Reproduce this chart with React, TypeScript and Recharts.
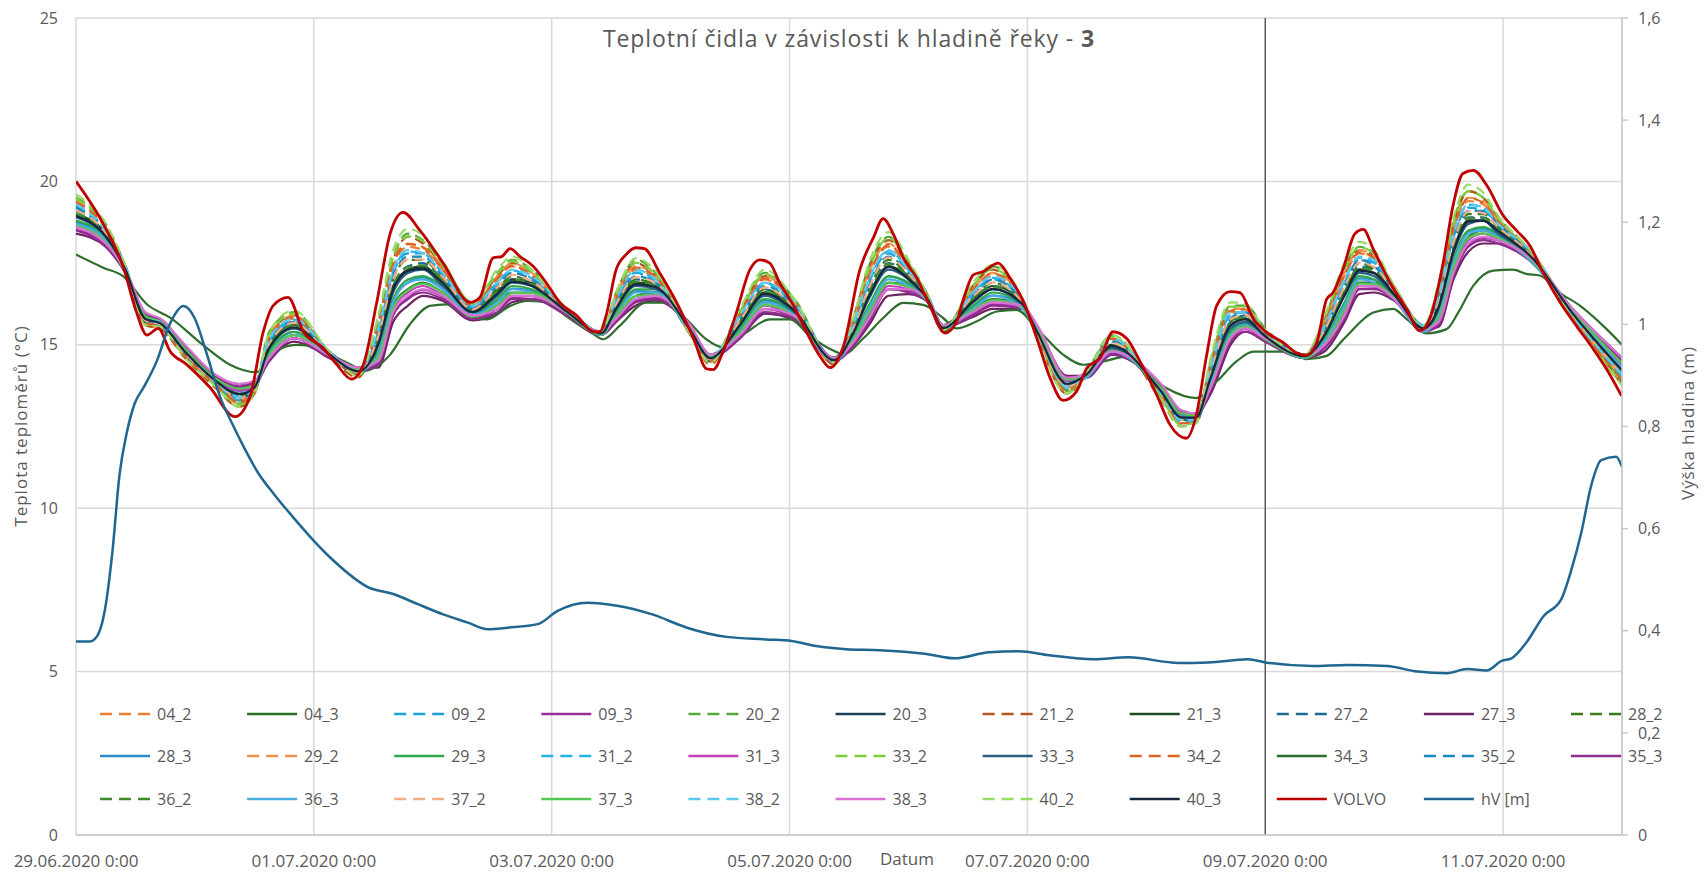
import React from "react";
import { ComposedChart, Line, XAxis, YAxis, CartesianGrid, ReferenceLine } from "recharts";

// ---------- axes ----------
const xTickHours = [0, 48, 96, 144, 192, 240, 288];
const xTickLabels = ["29.06.2020 0:00", "01.07.2020 0:00", "03.07.2020 0:00", "05.07.2020 0:00", "07.07.2020 0:00", "09.07.2020 0:00", "11.07.2020 0:00"];
const leftTicks = [0, 5, 10, 15, 20, 25];
const rightTicks = [0, 0.2, 0.4, 0.6, 0.8, 1, 1.2, 1.4, 1.6];

// hours since 29.06.2020 0:00 for the sensor readings
const bundleHours = [0, 6, 10, 14, 17, 22, 28, 33, 36, 39, 44, 51, 57, 61, 64, 67, 70, 74, 80, 85, 88, 92, 99, 106, 109, 113, 117, 124, 128, 134, 139, 145, 153, 157, 160, 164, 168, 172, 175, 181, 185, 191, 194, 200, 204, 209, 219, 223, 226, 229, 233, 236, 240, 248, 252, 256, 259, 262, 266, 272, 275, 278, 281, 284, 287, 294, 302, 312];

// ---------- sensor series (°C) ----------
const s40_2 = [19.6, 18.7, 17.4, 15.6, 15.55, 14.6, 13.75, 13.1, 13.5, 15.4, 16.05, 14.8, 14.05, 15.9, 17.9, 18.55, 18.35, 17.55, 16.3, 17.3, 17.7, 17.3, 16.1, 15.4, 16.6, 17.65, 17.25, 15.3, 14.45, 16.1, 17.3, 16.4, 14.45, 15.9, 17.5, 18.45, 17.6, 16.45, 15.45, 16.9, 17.45, 16.4, 15.2, 13.5, 14.15, 15.3, 13.35, 12.5, 12.6, 14.6, 16.3, 16.25, 15.45, 14.7, 15.9, 17.5, 18.15, 17.9, 16.8, 15.55, 16.9, 18.9, 19.9, 19.65, 18.95, 17.8, 15.8, 13.75];
const s33_2 = [19.48, 18.63, 17.38, 15.64, 15.57, 14.64, 13.78, 13.17, 13.54, 15.31, 15.96, 14.79, 14.08, 15.74, 17.68, 18.32, 18.17, 17.43, 16.25, 17.17, 17.56, 17.21, 16.09, 15.39, 16.51, 17.51, 17.16, 15.33, 14.48, 16.01, 17.17, 16.34, 14.47, 15.81, 17.31, 18.26, 17.5, 16.44, 15.46, 16.8, 17.32, 16.37, 15.24, 13.56, 14.14, 15.24, 13.39, 12.55, 12.63, 14.49, 16.17, 16.17, 15.42, 14.69, 15.79, 17.32, 17.99, 17.77, 16.76, 15.54, 16.77, 18.71, 19.7, 19.5, 18.87, 17.77, 15.83, 13.84];
const s20_2 = [19.5, 18.7, 17.4, 15.7, 15.6, 14.7, 13.8, 13.2, 13.6, 15.4, 16.0, 14.8, 14.1, 15.8, 17.7, 18.4, 18.2, 17.5, 16.3, 17.2, 17.6, 17.3, 16.1, 15.4, 16.6, 17.6, 17.2, 15.4, 14.5, 16.1, 17.2, 16.4, 14.5, 15.9, 17.4, 18.3, 17.5, 16.5, 15.5, 16.8, 17.4, 16.4, 15.3, 13.6, 14.2, 15.3, 13.4, 12.6, 12.7, 14.5, 16.2, 16.2, 15.5, 14.7, 15.8, 17.4, 18.0, 17.8, 16.8, 15.6, 16.8, 18.8, 19.7, 19.5, 18.9, 17.8, 15.9, 13.9];
const s21_2 = [19.4, 18.6, 17.3, 15.6, 15.5, 14.6, 13.7, 13.1, 13.5, 15.3, 15.9, 14.7, 14.0, 15.7, 17.6, 18.3, 18.1, 17.4, 16.2, 17.1, 17.5, 17.2, 16.0, 15.3, 16.5, 17.5, 17.1, 15.3, 14.4, 16.0, 17.1, 16.3, 14.4, 15.8, 17.3, 18.2, 17.5, 16.4, 15.4, 16.8, 17.3, 16.3, 15.2, 13.5, 14.1, 15.2, 13.3, 12.5, 12.6, 14.4, 16.1, 16.1, 15.4, 14.6, 15.7, 17.3, 17.9, 17.7, 16.7, 15.5, 16.7, 18.7, 19.7, 19.5, 18.8, 17.7, 15.8, 13.8];
const s34_2 = [19.36, 18.56, 17.36, 15.67, 15.59, 14.67, 13.81, 13.24, 13.57, 15.22, 15.86, 14.77, 14.1, 15.58, 17.46, 18.08, 17.98, 17.31, 16.19, 17.03, 17.42, 17.12, 16.07, 15.38, 16.42, 17.36, 17.07, 15.35, 14.5, 15.92, 17.03, 16.27, 14.48, 15.72, 17.12, 18.06, 17.39, 16.42, 15.47, 16.69, 17.18, 16.34, 15.27, 13.61, 14.13, 15.18, 13.43, 12.6, 12.66, 14.38, 16.04, 16.08, 15.38, 14.68, 15.68, 17.14, 17.83, 17.64, 16.71, 15.53, 16.63, 18.52, 19.49, 19.34, 18.78, 17.74, 15.86, 13.92];
const s29_2 = [19.4, 18.6, 17.4, 15.7, 15.6, 14.7, 13.9, 13.3, 13.6, 15.3, 15.9, 14.8, 14.1, 15.6, 17.5, 18.1, 18.0, 17.4, 16.2, 17.1, 17.5, 17.2, 16.1, 15.4, 16.5, 17.4, 17.1, 15.4, 14.5, 16.0, 17.1, 16.3, 14.5, 15.8, 17.2, 18.1, 17.4, 16.5, 15.5, 16.7, 17.2, 16.4, 15.3, 13.7, 14.2, 15.2, 13.5, 12.6, 12.7, 14.4, 16.1, 16.1, 15.4, 14.7, 15.7, 17.2, 17.9, 17.7, 16.8, 15.6, 16.7, 18.6, 19.5, 19.4, 18.8, 17.8, 15.9, 14.0];
const s04_2 = [19.3, 18.5, 17.3, 15.6, 15.5, 14.6, 13.8, 13.2, 13.5, 15.2, 15.8, 14.7, 14.1, 15.5, 17.4, 18.0, 17.9, 17.3, 16.1, 17.0, 17.4, 17.1, 16.0, 15.3, 16.4, 17.3, 17.0, 15.3, 14.5, 15.9, 17.0, 16.2, 14.4, 15.7, 17.1, 18.0, 17.3, 16.4, 15.4, 16.6, 17.1, 16.3, 15.2, 13.6, 14.1, 15.1, 13.4, 12.6, 12.6, 14.3, 16.0, 16.0, 15.3, 14.6, 15.6, 17.1, 17.8, 17.6, 16.7, 15.5, 16.6, 18.5, 19.4, 19.3, 18.7, 17.7, 15.8, 13.9];
const s31_2 = [19.24, 18.49, 17.34, 15.71, 15.61, 14.71, 13.84, 13.31, 13.61, 15.13, 15.77, 14.76, 14.13, 15.42, 17.24, 17.85, 17.8, 17.19, 16.14, 16.9, 17.28, 17.03, 16.06, 15.37, 16.33, 17.22, 16.98, 15.38, 14.53, 15.83, 16.9, 16.21, 14.5, 15.63, 16.93, 17.87, 17.29, 16.41, 15.48, 16.59, 17.05, 16.31, 15.31, 13.67, 14.12, 15.12, 13.47, 12.65, 12.69, 14.27, 15.91, 16.0, 15.35, 14.67, 15.57, 16.96, 17.67, 17.51, 16.67, 15.52, 16.5, 18.33, 19.29, 19.19, 18.7, 17.71, 15.89, 14.01];
const s38_2 = [19.3, 18.5, 17.4, 15.8, 15.7, 14.8, 13.9, 13.4, 13.7, 15.2, 15.8, 14.8, 14.2, 15.5, 17.3, 17.9, 17.8, 17.2, 16.2, 16.9, 17.3, 17.1, 16.1, 15.4, 16.4, 17.3, 17.0, 15.4, 14.6, 15.9, 16.9, 16.3, 14.5, 15.7, 17.0, 17.9, 17.3, 16.5, 15.5, 16.6, 17.1, 16.4, 15.4, 13.7, 14.2, 15.2, 13.5, 12.7, 12.7, 14.3, 16.0, 16.0, 15.4, 14.7, 15.6, 17.0, 17.7, 17.6, 16.7, 15.6, 16.5, 18.4, 19.3, 19.2, 18.7, 17.8, 15.9, 14.1];
const s09_2 = [19.2, 18.4, 17.3, 15.7, 15.6, 14.7, 13.8, 13.3, 13.6, 15.1, 15.7, 14.7, 14.1, 15.4, 17.2, 17.8, 17.8, 17.1, 16.1, 16.9, 17.2, 17.0, 16.0, 15.3, 16.3, 17.2, 16.9, 15.3, 14.5, 15.8, 16.9, 16.2, 14.5, 15.6, 16.9, 17.8, 17.2, 16.4, 15.4, 16.5, 17.0, 16.3, 15.3, 13.6, 14.1, 15.1, 13.4, 12.6, 12.6, 14.2, 15.9, 16.0, 15.3, 14.6, 15.5, 16.9, 17.6, 17.5, 16.6, 15.5, 16.5, 18.3, 19.2, 19.1, 18.7, 17.7, 15.8, 14.0];
const s37_2 = [19.12, 18.42, 17.32, 15.74, 15.63, 14.74, 13.87, 13.38, 13.64, 15.04, 15.67, 14.74, 14.15, 15.26, 17.02, 17.61, 17.61, 17.07, 16.08, 16.76, 17.14, 16.94, 16.04, 15.36, 16.24, 17.07, 16.89, 15.4, 14.55, 15.74, 16.76, 16.14, 14.51, 15.54, 16.74, 17.67, 17.18, 16.39, 15.49, 16.48, 16.91, 16.28, 15.34, 13.72, 14.11, 15.06, 13.51, 12.7, 12.72, 14.16, 15.78, 15.91, 15.31, 14.66, 15.46, 16.78, 17.51, 17.38, 16.62, 15.51, 16.36, 18.14, 19.08, 19.03, 18.61, 17.68, 15.92, 14.09];
const s35_2 = [19.2, 18.5, 17.4, 15.8, 15.7, 14.8, 13.9, 13.4, 13.7, 15.1, 15.7, 14.8, 14.2, 15.3, 17.1, 17.7, 17.7, 17.1, 16.1, 16.8, 17.2, 17.0, 16.1, 15.4, 16.3, 17.1, 16.9, 15.4, 14.6, 15.8, 16.8, 16.2, 14.6, 15.6, 16.8, 17.7, 17.2, 16.4, 15.5, 16.5, 17.0, 16.3, 15.4, 13.8, 14.2, 15.1, 13.6, 12.7, 12.8, 14.2, 15.8, 16.0, 15.4, 14.7, 15.5, 16.8, 17.6, 17.4, 16.7, 15.6, 16.4, 18.2, 19.1, 19.1, 18.7, 17.7, 16.0, 14.1];
const s28_2 = [19.1, 18.4, 17.3, 15.7, 15.6, 14.7, 13.8, 13.3, 13.6, 15.0, 15.6, 14.7, 14.1, 15.2, 17.0, 17.6, 17.6, 17.0, 16.0, 16.7, 17.1, 16.9, 16.0, 15.3, 16.2, 17.0, 16.8, 15.4, 14.5, 15.7, 16.7, 16.1, 14.5, 15.5, 16.7, 17.6, 17.1, 16.3, 15.4, 16.4, 16.9, 16.2, 15.3, 13.7, 14.1, 15.0, 13.5, 12.7, 12.7, 14.1, 15.7, 15.9, 15.3, 14.6, 15.4, 16.7, 17.5, 17.3, 16.6, 15.5, 16.3, 18.1, 19.0, 19.0, 18.6, 17.6, 15.9, 14.0];
const s36_2 = [19.0, 18.35, 17.3, 15.78, 15.65, 14.78, 13.9, 13.45, 13.68, 14.95, 15.58, 14.73, 14.18, 15.1, 16.8, 17.38, 17.43, 16.95, 16.03, 16.63, 17.0, 16.85, 16.03, 15.35, 16.15, 16.93, 16.8, 15.43, 14.58, 15.65, 16.63, 16.08, 14.53, 15.45, 16.55, 17.48, 17.08, 16.38, 15.5, 16.38, 16.78, 16.25, 15.38, 13.78, 14.1, 15.0, 13.55, 12.75, 12.75, 14.05, 15.65, 15.83, 15.28, 14.65, 15.35, 16.6, 17.35, 17.25, 16.58, 15.5, 16.23, 17.95, 18.88, 18.88, 18.53, 17.65, 15.95, 14.18];
const s27_2 = [19.0, 18.4, 17.3, 15.8, 15.7, 14.8, 13.9, 13.5, 13.7, 15.0, 15.6, 14.8, 14.2, 15.1, 16.8, 17.4, 17.5, 17.0, 16.1, 16.7, 17.0, 16.9, 16.1, 15.4, 16.2, 17.0, 16.8, 15.5, 14.6, 15.7, 16.7, 16.1, 14.6, 15.5, 16.6, 17.5, 17.1, 16.4, 15.5, 16.4, 16.8, 16.3, 15.4, 13.8, 14.1, 15.0, 13.6, 12.8, 12.8, 14.1, 15.7, 15.9, 15.3, 14.7, 15.4, 16.6, 17.4, 17.3, 16.6, 15.5, 16.3, 18.0, 18.9, 18.9, 18.6, 17.7, 16.0, 14.2];
const s20_3 = [19.0, 18.3, 17.3, 15.7, 15.6, 14.7, 13.9, 13.4, 13.6, 14.9, 15.5, 14.7, 14.1, 15.1, 16.8, 17.3, 17.4, 16.9, 16.0, 16.6, 17.0, 16.8, 16.0, 15.3, 16.1, 16.9, 16.8, 15.4, 14.5, 15.6, 16.6, 16.0, 14.5, 15.4, 16.5, 17.4, 17.0, 16.3, 15.5, 16.3, 16.7, 16.2, 15.3, 13.7, 14.1, 15.0, 13.5, 12.7, 12.7, 14.0, 15.6, 15.8, 15.2, 14.6, 15.3, 16.6, 17.3, 17.2, 16.5, 15.5, 16.2, 17.9, 18.8, 18.8, 18.5, 17.6, 15.9, 14.1];
const s40_3 = [18.94, 18.32, 17.29, 15.79, 15.66, 14.79, 13.92, 13.49, 13.69, 14.91, 15.53, 14.72, 14.19, 15.02, 16.69, 17.26, 17.33, 16.89, 16.0, 16.56, 16.93, 16.81, 16.02, 15.35, 16.11, 16.85, 16.76, 15.44, 14.59, 15.61, 16.56, 16.04, 14.53, 15.41, 16.46, 17.38, 17.02, 16.37, 15.51, 16.32, 16.71, 16.24, 15.39, 13.8, 14.1, 14.97, 13.57, 12.78, 12.77, 14.0, 15.59, 15.78, 15.26, 14.65, 15.3, 16.51, 17.27, 17.19, 16.55, 15.5, 16.16, 17.86, 18.77, 18.8, 18.48, 17.64, 15.97, 14.22];
const s21_3 = [19.0, 18.4, 17.3, 15.8, 15.7, 14.8, 14.0, 13.5, 13.7, 15.0, 15.6, 14.8, 14.2, 15.1, 16.7, 17.3, 17.4, 16.9, 16.0, 16.6, 17.0, 16.9, 16.1, 15.4, 16.2, 16.9, 16.8, 15.5, 14.6, 15.7, 16.6, 16.1, 14.6, 15.5, 16.5, 17.4, 17.1, 16.4, 15.6, 16.4, 16.8, 16.3, 15.4, 13.8, 14.1, 15.0, 13.6, 12.8, 12.8, 14.0, 15.6, 15.8, 15.3, 14.7, 15.3, 16.6, 17.3, 17.2, 16.6, 15.5, 16.2, 17.9, 18.8, 18.8, 18.5, 17.7, 16.0, 14.3];
const s33_3 = [18.9, 18.3, 17.2, 15.7, 15.6, 14.7, 13.9, 13.4, 13.6, 14.9, 15.5, 14.7, 14.1, 15.0, 16.6, 17.2, 17.3, 16.8, 16.0, 16.5, 16.9, 16.8, 16.0, 15.3, 16.1, 16.8, 16.7, 15.4, 14.5, 15.6, 16.5, 16.0, 14.5, 15.4, 16.4, 17.3, 17.0, 16.3, 15.5, 16.3, 16.7, 16.2, 15.3, 13.8, 14.1, 14.9, 13.5, 12.7, 12.7, 14.0, 15.5, 15.7, 15.2, 14.6, 15.3, 16.5, 17.2, 17.1, 16.5, 15.5, 16.1, 17.8, 18.7, 18.8, 18.4, 17.6, 15.9, 14.2];
const s28_3 = [18.76, 18.21, 17.26, 15.85, 15.69, 14.85, 13.96, 13.59, 13.75, 14.77, 15.39, 14.7, 14.23, 14.78, 16.36, 16.91, 17.06, 16.71, 15.92, 16.36, 16.72, 16.67, 16.0, 15.33, 15.97, 16.64, 16.62, 15.48, 14.63, 15.47, 16.36, 15.95, 14.56, 15.27, 16.17, 17.09, 16.87, 16.35, 15.52, 16.17, 16.51, 16.19, 15.45, 13.89, 14.08, 14.88, 13.63, 12.85, 12.81, 13.83, 15.39, 15.66, 15.21, 14.63, 15.13, 16.24, 17.03, 16.99, 16.49, 15.48, 15.96, 17.57, 18.47, 18.57, 18.36, 17.59, 16.01, 14.35];
const s29_3 = [18.8, 18.3, 17.3, 15.9, 15.7, 14.9, 14.0, 13.6, 13.8, 14.8, 15.4, 14.7, 14.3, 14.8, 16.4, 17.0, 17.1, 16.8, 16.0, 16.4, 16.8, 16.7, 16.0, 15.4, 16.0, 16.7, 16.7, 15.5, 14.7, 15.5, 16.4, 16.0, 14.6, 15.3, 16.2, 17.1, 16.9, 16.4, 15.6, 16.2, 16.6, 16.2, 15.5, 13.9, 14.1, 14.9, 13.7, 12.9, 12.9, 13.9, 15.4, 15.7, 15.3, 14.7, 15.2, 16.3, 17.1, 17.0, 16.5, 15.5, 16.0, 17.6, 18.5, 18.6, 18.4, 17.6, 16.1, 14.4];
const s36_3 = [18.7, 18.2, 17.2, 15.8, 15.6, 14.8, 13.9, 13.5, 13.7, 14.7, 15.3, 14.7, 14.2, 14.7, 16.3, 16.9, 17.0, 16.7, 15.9, 16.3, 16.7, 16.6, 16.0, 15.3, 15.9, 16.6, 16.6, 15.4, 14.6, 15.4, 16.3, 15.9, 14.5, 15.2, 16.1, 17.0, 16.8, 16.3, 15.5, 16.1, 16.5, 16.1, 15.4, 13.8, 14.0, 14.8, 13.6, 12.8, 12.8, 13.8, 15.3, 15.6, 15.2, 14.6, 15.1, 16.2, 17.0, 16.9, 16.4, 15.4, 15.9, 17.5, 18.4, 18.5, 18.3, 17.5, 16.0, 14.3];
const s37_3 = [18.64, 18.14, 17.24, 15.88, 15.71, 14.88, 13.99, 13.66, 13.78, 14.68, 15.29, 14.68, 14.25, 14.62, 16.14, 16.67, 16.87, 16.59, 15.86, 16.22, 16.58, 16.58, 15.98, 15.32, 15.88, 16.49, 16.53, 15.5, 14.65, 15.38, 16.22, 15.88, 14.57, 15.18, 15.98, 16.89, 16.76, 16.33, 15.53, 16.06, 16.37, 16.16, 15.48, 13.94, 14.07, 14.82, 13.67, 12.9, 12.84, 13.72, 15.26, 15.57, 15.17, 14.62, 15.02, 16.06, 16.87, 16.86, 16.44, 15.47, 15.82, 17.38, 18.26, 18.41, 18.27, 17.56, 16.04, 14.43];
const s04_3 = [18.7, 18.2, 17.3, 15.9, 15.8, 14.9, 14.0, 13.7, 13.8, 14.7, 15.3, 14.7, 14.3, 14.7, 16.2, 16.7, 16.9, 16.6, 15.9, 16.3, 16.6, 16.6, 16.0, 15.4, 15.9, 16.5, 16.6, 15.5, 14.7, 15.4, 16.3, 15.9, 14.6, 15.2, 16.0, 16.9, 16.8, 16.4, 15.6, 16.1, 16.4, 16.2, 15.5, 14.0, 14.1, 14.9, 13.7, 12.9, 12.9, 13.8, 15.3, 15.6, 15.2, 14.7, 15.1, 16.1, 16.9, 16.9, 16.5, 15.5, 15.9, 17.4, 18.3, 18.5, 18.3, 17.6, 16.1, 14.5];
const s31_3 = [18.6, 18.1, 17.2, 15.8, 15.7, 14.8, 13.9, 13.6, 13.7, 14.6, 15.2, 14.6, 14.2, 14.6, 16.1, 16.6, 16.8, 16.5, 15.8, 16.2, 16.5, 16.5, 15.9, 15.3, 15.8, 16.4, 16.5, 15.5, 14.6, 15.3, 16.2, 15.8, 14.5, 15.1, 15.9, 16.8, 16.7, 16.3, 15.5, 16.0, 16.3, 16.1, 15.4, 13.9, 14.0, 14.8, 13.6, 12.9, 12.8, 13.7, 15.2, 15.5, 15.1, 14.6, 15.0, 16.0, 16.8, 16.8, 16.4, 15.4, 15.8, 17.3, 18.2, 18.4, 18.2, 17.5, 16.0, 14.4];
const s09_3 = [18.52, 18.07, 17.22, 15.92, 15.73, 14.92, 14.02, 13.73, 13.82, 14.59, 15.2, 14.67, 14.28, 14.46, 15.92, 16.44, 16.69, 16.47, 15.81, 16.09, 16.44, 16.49, 15.97, 15.31, 15.79, 16.35, 16.44, 15.53, 14.68, 15.29, 16.09, 15.82, 14.59, 15.09, 15.79, 16.7, 16.66, 16.32, 15.54, 15.96, 16.24, 16.13, 15.52, 14.0, 14.06, 14.76, 13.71, 12.95, 12.87, 13.61, 15.13, 15.49, 15.14, 14.61, 14.91, 15.88, 16.71, 16.73, 16.4, 15.46, 15.69, 17.19, 18.06, 18.26, 18.19, 17.53, 16.07, 14.52];
const s38_3 = [18.6, 18.1, 17.3, 16.0, 15.8, 15.0, 14.1, 13.8, 13.9, 14.6, 15.2, 14.7, 14.3, 14.5, 16.0, 16.5, 16.7, 16.5, 15.9, 16.1, 16.5, 16.5, 16.0, 15.4, 15.8, 16.4, 16.5, 15.6, 14.7, 15.3, 16.1, 15.9, 14.6, 15.1, 15.8, 16.7, 16.7, 16.4, 15.6, 16.0, 16.3, 16.2, 15.6, 14.0, 14.1, 14.8, 13.8, 13.0, 12.9, 13.7, 15.2, 15.5, 15.2, 14.7, 15.0, 15.9, 16.8, 16.8, 16.4, 15.5, 15.7, 17.2, 18.1, 18.3, 18.2, 17.6, 16.1, 14.6];
const s35_3 = [18.5, 18.0, 17.2, 15.9, 15.7, 14.9, 14.0, 13.7, 13.8, 14.5, 15.2, 14.6, 14.2, 14.4, 15.9, 16.4, 16.6, 16.4, 15.8, 16.0, 16.4, 16.4, 15.9, 15.3, 15.7, 16.3, 16.4, 15.5, 14.6, 15.2, 16.0, 15.8, 14.5, 15.0, 15.7, 16.7, 16.6, 16.3, 15.5, 15.9, 16.2, 16.1, 15.5, 14.0, 14.0, 14.7, 13.7, 12.9, 12.8, 13.6, 15.1, 15.4, 15.1, 14.6, 14.9, 15.8, 16.7, 16.7, 16.4, 15.4, 15.6, 17.1, 18.0, 18.2, 18.1, 17.5, 16.0, 14.5];
const s27_3 = [18.4, 18.0, 17.2, 15.95, 15.75, 14.95, 14.05, 13.8, 13.85, 14.5, 15.1, 14.65, 14.3, 14.3, 15.7, 16.2, 16.5, 16.35, 15.75, 15.95, 16.3, 16.4, 15.95, 15.3, 15.7, 16.2, 16.35, 15.55, 14.7, 15.2, 15.95, 15.75, 14.6, 15.0, 15.6, 16.5, 16.55, 16.3, 15.55, 15.85, 16.1, 16.1, 15.55, 14.05, 14.05, 14.7, 13.75, 13.0, 12.9, 13.5, 15.0, 15.4, 15.1, 14.6, 14.8, 15.7, 16.55, 16.6, 16.35, 15.45, 15.55, 17.0, 17.85, 18.1, 18.1, 17.5, 16.1, 14.6];

// 34_3 – most damped sensor, [hour, °C]
const s34_3: [number, number][] = [[0, 17.76], [5.5, 17.36], [9.5, 17.1], [14.3, 16.24], [19, 15.83], [25.6, 15.0], [31, 14.4], [33.7, 14.23], [36.4, 14.16], [40.4, 14.8], [44.4, 15.0], [47, 14.97], [51.2, 14.7], [55.9, 14.36], [58, 14.2], [63.4, 14.7], [67.4, 15.63], [71.4, 16.19], [74.8, 16.24], [77.5, 15.99], [82.9, 15.78], [87.6, 16.19], [91, 16.34], [94.9, 16.3], [98.9, 15.88], [104.4, 15.33], [106.4, 15.17], [109.7, 15.58], [115.1, 16.29], [119.1, 16.29], [123.2, 15.78], [127.2, 15.17], [130.6, 14.92], [135.3, 15.38], [140, 15.78], [144.1, 15.78], [148.1, 15.27], [152.2, 14.87], [154.9, 14.72], [158.9, 15.2], [162.9, 15.82], [167, 16.28], [171, 16.22], [175, 15.82], [177.7, 15.5], [181.7, 15.71], [185.8, 16.02], [189.8, 16.07], [193.9, 15.5], [199.2, 14.7], [203.3, 14.39], [207.3, 14.49], [212, 14.64], [215.4, 14.18], [220.1, 13.67], [226.1, 13.37], [230.2, 13.88], [234.2, 14.49], [237.6, 14.79], [245, 14.79], [248.3, 14.56], [252.4, 14.66], [256, 15.2], [261.8, 15.99], [265.8, 16.1], [268.5, 15.79], [272.5, 15.35], [276.6, 15.48], [279, 16.0], [282, 16.81], [286, 17.27], [290, 17.3], [292.7, 17.17], [295.4, 17.12], [299.4, 16.6], [303.5, 16.2], [308.9, 15.48], [312, 15.0]];

// VOLVO reference, [hour, °C]
const volvo: [number, number][] = [[0, 20.0], [5.5, 18.7], [9.5, 17.4], [12.2, 16.0], [14.3, 15.3], [16.6, 15.5], [19, 14.8], [22.3, 14.4], [27, 13.7], [32.1, 12.8], [35.1, 13.4], [37.8, 15.4], [39.8, 16.2], [42.8, 16.45], [45.9, 15.4], [49.9, 14.9], [52.6, 14.4], [55.6, 13.95], [58, 14.4], [60.7, 16.3], [63.4, 18.4], [66, 19.05], [69.4, 18.5], [74.1, 17.5], [79.5, 16.3], [81.5, 16.45], [84.2, 17.66], [85.9, 17.7], [87.6, 17.94], [89.6, 17.7], [92.3, 17.4], [94.9, 16.9], [97.6, 16.3], [101, 15.9], [104.4, 15.4], [105.7, 15.4], [107, 15.9], [109, 17.3], [111, 17.76], [113, 17.97], [114.7, 17.94], [117.8, 17.2], [121.2, 16.3], [124.6, 15.2], [127.3, 14.26], [128.6, 14.24], [130.6, 14.8], [133.3, 16.0], [136, 17.3], [138, 17.6], [140, 17.5], [142, 16.9], [144.8, 16.2], [147.4, 15.4], [150.1, 14.66], [152.2, 14.3], [154.9, 14.97], [158.2, 17.3], [160.9, 18.27], [162.9, 18.86], [164.9, 18.4], [167, 17.65], [169.7, 17.04], [172.3, 16.2], [175.4, 15.36], [177.7, 15.7], [179.1, 16.4], [181.1, 17.14], [183.1, 17.24], [186.1, 17.5], [188.5, 17.04], [191.2, 16.33], [193.9, 15.2], [196.6, 13.98], [199.2, 13.3], [201.9, 13.57], [204, 14.29], [206.7, 14.6], [209.3, 15.4], [212, 15.2], [214.7, 14.5], [218.1, 13.47], [220.8, 12.55], [224.1, 12.14], [226.1, 12.86], [228.2, 14.7], [230.2, 16.2], [232.9, 16.63], [234.9, 16.6], [237.6, 15.8], [240.3, 15.38], [243.6, 15.07], [246.3, 14.76], [248.3, 14.68], [250.4, 15.07], [252.4, 16.4], [253.7, 16.6], [255.7, 17.32], [258.1, 18.4], [259.8, 18.53], [261.8, 17.93], [265.2, 16.9], [268.5, 16.1], [271.2, 15.43], [273.2, 15.8], [275.9, 17.5], [277.9, 19.26], [279.9, 20.24], [282, 20.34], [284.7, 19.88], [288, 18.96], [290.7, 18.5], [293.4, 18.04], [296.1, 17.2], [299.5, 16.3], [302.8, 15.58], [306.2, 14.87], [308.9, 14.25], [311.9, 13.44]];

// river level hV [m], [hour, m]
const hv: [number, number][] = [[0, 0.379], [2.8, 0.379], [4.3, 0.39], [5.8, 0.439], [7.3, 0.55], [8.8, 0.707], [10.3, 0.79], [11.8, 0.844], [13.8, 0.879], [16.3, 0.928], [18.9, 1.0], [21.7, 1.036], [23.9, 1.013], [26.4, 0.942], [28.9, 0.863], [31.9, 0.798], [33.9, 0.759], [36.9, 0.707], [40, 0.667], [45, 0.609], [48, 0.576], [52, 0.537], [59, 0.485], [64, 0.472], [69, 0.452], [74.1, 0.432], [79.1, 0.416], [83.1, 0.403], [87.1, 0.406], [93.2, 0.413], [97.2, 0.439], [103.2, 0.455], [109.2, 0.449], [116.3, 0.432], [123.3, 0.406], [131.3, 0.388], [139.3, 0.383], [144.4, 0.38], [149.4, 0.37], [155.4, 0.364], [162.2, 0.362], [171.2, 0.355], [177.3, 0.346], [184.3, 0.358], [190.3, 0.36], [196.4, 0.352], [205.4, 0.344], [212.4, 0.348], [222.5, 0.337], [228.5, 0.338], [236.5, 0.344], [240, 0.338], [249.6, 0.331], [256.6, 0.333], [264.6, 0.331], [270.7, 0.32], [276.7, 0.317], [280.7, 0.325], [284.7, 0.322], [287.7, 0.341], [289.7, 0.346], [292.7, 0.377], [296.2, 0.429], [299.7, 0.461], [301.8, 0.52], [303.8, 0.593], [305.8, 0.685], [307.8, 0.734], [310.8, 0.741], [312, 0.721]];

// ---------- series meta (legend order) ----------
type Meta = { key: string; name: string; color: string; dashed: boolean };
const seriesMeta: Meta[] = [
  { key: "s04_2", name: "04_2", color: "#ED7D31", dashed: true },
  { key: "s04_3", name: "04_3", color: "#267326", dashed: false },
  { key: "s09_2", name: "09_2", color: "#1AA0DC", dashed: true },
  { key: "s09_3", name: "09_3", color: "#9B2D9B", dashed: false },
  { key: "s20_2", name: "20_2", color: "#55A83A", dashed: true },
  { key: "s20_3", name: "20_3", color: "#1B3F55", dashed: false },
  { key: "s21_2", name: "21_2", color: "#B5561E", dashed: true },
  { key: "s21_3", name: "21_3", color: "#1E4B24", dashed: false },
  { key: "s27_2", name: "27_2", color: "#1A6A92", dashed: true },
  { key: "s27_3", name: "27_3", color: "#6E2263", dashed: false },
  { key: "s28_2", name: "28_2", color: "#3A7A1E", dashed: true },
  { key: "s28_3", name: "28_3", color: "#2A8CC8", dashed: false },
  { key: "s29_2", name: "29_2", color: "#F09050", dashed: true },
  { key: "s29_3", name: "29_3", color: "#2FA84A", dashed: false },
  { key: "s31_2", name: "31_2", color: "#22B5EA", dashed: true },
  { key: "s31_3", name: "31_3", color: "#C63FBE", dashed: false },
  { key: "s33_2", name: "33_2", color: "#7ACF3F", dashed: true },
  { key: "s33_3", name: "33_3", color: "#2C5F84", dashed: false },
  { key: "s34_2", name: "34_2", color: "#DB6420", dashed: true },
  { key: "s34_3", name: "34_3", color: "#2D6E2D", dashed: false },
  { key: "s35_2", name: "35_2", color: "#1C86BE", dashed: true },
  { key: "s35_3", name: "35_3", color: "#8E2D8E", dashed: false },
  { key: "s36_2", name: "36_2", color: "#3F8A2A", dashed: true },
  { key: "s36_3", name: "36_3", color: "#4AAEE0", dashed: false },
  { key: "s37_2", name: "37_2", color: "#F4AC85", dashed: true },
  { key: "s37_3", name: "37_3", color: "#55C655", dashed: false },
  { key: "s38_2", name: "38_2", color: "#5BC8F0", dashed: true },
  { key: "s38_3", name: "38_3", color: "#DA72D6", dashed: false },
  { key: "s40_2", name: "40_2", color: "#9ADB66", dashed: true },
  { key: "s40_3", name: "40_3", color: "#16283D", dashed: false },
  { key: "volvo", name: "VOLVO", color: "#C00000", dashed: false },
  { key: "hv", name: "hV [m]", color: "#1F6690", dashed: false },
];

const bundleValues: Record<string, number[]> = {
  s04_2, s04_3, s09_2, s09_3, s20_2, s20_3, s21_2, s21_3, s27_2, s27_3,
  s28_2, s28_3, s29_2, s29_3, s31_2, s31_3, s33_2, s33_3, s34_2,
  s35_2, s35_3, s36_2, s36_3, s37_2, s37_3, s38_2, s38_3, s40_2, s40_3,
};

const bundleTable = bundleHours.map((h, i) => {
  const row: Record<string, number> = { h };
  Object.keys(bundleValues).forEach((k) => {
    row[k] = bundleValues[k][i];
  });
  return row;
});
const toRows = (arr: [number, number][]) => arr.map(([h, v]) => ({ h, v }));
const d34_3 = toRows(s34_3);
const dVolvo = toRows(volvo);
const dHv = toRows(hv);

const TXT = "#595959";
const FONT = '"Open Sans", "Liberation Sans", sans-serif';

const legendRowsY = [714, 756, 799];
const legendX0 = 100;
const legendDX = 147.1;

export default function App() {
  const labelFor = (v: number) => {
    const i = xTickHours.indexOf(v);
    return i >= 0 ? xTickLabels[i] : "";
  };
  return (
    <div style={{ position: "absolute", left: 0, top: 0, width: 1704, height: 876, background: "#fff", fontFamily: FONT }}>
      <ComposedChart width={1704} height={876} data={bundleTable} margin={{ top: 18, right: 0, bottom: 0, left: 0 }}>
        <CartesianGrid yAxisId="left" stroke="#d9d9d9" strokeWidth={1.5} />
        <XAxis
          dataKey="h"
          type="number"
          domain={[0, 312]}
          ticks={xTickHours}
          interval={0}
          allowDataOverflow
          tickFormatter={labelFor}
          height={41}
          axisLine={{ stroke: "#c8c8c8", strokeWidth: 1.5 }}
          tickLine={false}
          tickMargin={14}
          tick={{ fill: TXT, fontSize: 17 }}
        />
        <YAxis
          yAxisId="left"
          domain={[0, 25]}
          ticks={leftTicks}
          interval={0}
          width={76}
          axisLine={false}
          tickLine={false}
          tickMargin={12}
          tick={{ fill: TXT, fontSize: 16 }}
        />
        <YAxis
          yAxisId="right"
          orientation="right"
          domain={[0, 1.6]}
          ticks={rightTicks}
          interval={0}
          width={82}
          axisLine={{ stroke: "#c8c8c8", strokeWidth: 1.5 }}
          tickLine={{ stroke: "#c8c8c8", strokeWidth: 1.5 }}
          tickSize={6}
          tickMargin={10}
          tick={{ fill: TXT, fontSize: 16 }}
          tickFormatter={(v: number) => String(v).replace(".", ",")}
        />
        <ReferenceLine yAxisId="left" x={240} stroke="#404040" strokeWidth={1.2} />
        {seriesMeta.map((m) => {
          if (m.key === "hv") {
            return (
              <Line key={m.key} yAxisId="right" data={dHv} dataKey="v" name={m.name} type="monotone" stroke={m.color} strokeWidth={2.5} dot={false} activeDot={false} isAnimationActive={false} />
            );
          }
          if (m.key === "volvo") {
            return (
              <Line key={m.key} yAxisId="left" data={dVolvo} dataKey="v" name={m.name} type="monotone" stroke={m.color} strokeWidth={2.8} dot={false} activeDot={false} isAnimationActive={false} />
            );
          }
          if (m.key === "s34_3") {
            return (
              <Line key={m.key} yAxisId="left" data={d34_3} dataKey="v" name={m.name} type="monotone" stroke={m.color} strokeWidth={2.2} dot={false} activeDot={false} isAnimationActive={false} />
            );
          }
          return (
            <Line
              key={m.key}
              yAxisId="left"
              dataKey={m.key}
              name={m.name}
              type="monotone"
              stroke={m.color}
              strokeWidth={2.2}
              strokeDasharray={m.dashed ? "10 6" : undefined}
              dot={false}
              activeDot={false}
              isAnimationActive={false}
            />
          );
        })}
      </ComposedChart>
      <svg width={1704} height={876} style={{ position: "absolute", left: 0, top: 0, pointerEvents: "none" }}>
        <text x={849} y={47} textAnchor="middle" fontSize={23} letterSpacing={0.9} fill={TXT}>
          Teplotní čidla v závislosti k hladině řeky - <tspan fontWeight="bold">3</tspan>
        </text>
        <text transform="translate(20,426) rotate(-90)" textAnchor="middle" dominantBaseline="central" fontSize={17} letterSpacing={1} fill={TXT}>
          Teplota teploměrů (°C)
        </text>
        <text transform="translate(1687,423) rotate(-90)" textAnchor="middle" dominantBaseline="central" fontSize={17} letterSpacing={0.9} fill={TXT}>
          Výška hladina (m)
        </text>
        <text x={907} y={858} textAnchor="middle" dominantBaseline="central" fontSize={17} fill={TXT}>
          Datum
        </text>
        {seriesMeta.map((m, i) => {
          const row = Math.floor(i / 11);
          const col = i % 11;
          const x = legendX0 + col * legendDX;
          const y = legendRowsY[row];
          return (
            <g key={m.key}>
              <line x1={x} y1={y} x2={x + 50} y2={y} stroke={m.color} strokeWidth={2.5} strokeDasharray={m.dashed ? "12 7" : undefined} />
              <text x={x + 57} y={y} dominantBaseline="central" fontSize={16} fill={TXT}>
                {m.name}
              </text>
            </g>
          );
        })}
      </svg>
    </div>
  );
}
